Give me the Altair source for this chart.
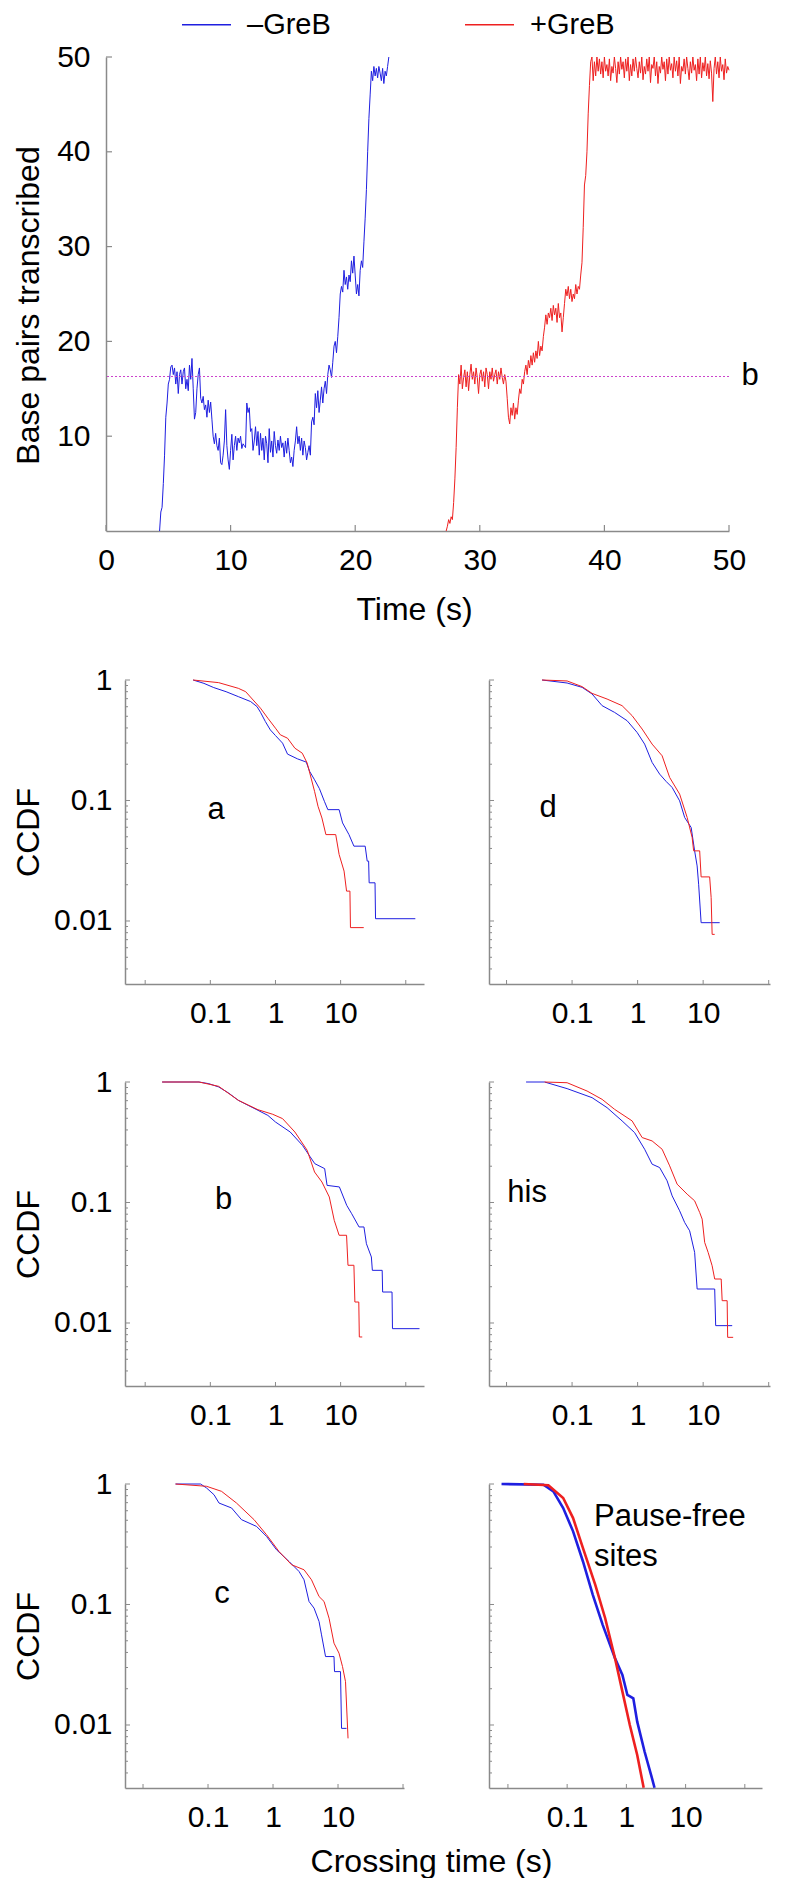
import altair as alt
import pandas as pd

FONT = "Liberation Sans"
BLUE = "#1f1fe0"
RED = "#ee2020"
MAGENTA = "#cc44cc"
GREY = "#8a8a8a"

# ---------------- top panel: single-molecule traces ----------------
CONDITIONS = ["\u2013GreB", "+GreB"]
PAUSE_SITE_BP = 16.3
PAUSE_SITE_LABEL = "b"
TIME_TICKS = [0, 10, 20, 30, 40, 50]
BP_TICKS = [10, 20, 30, 40, 50]

# (time s, base pairs transcribed)
MINUS_TRACE = [
    (4.3, 0), (4.4, 2), (4.5, 2.5), (4.6, 5), (4.7, 8), (4.8, 12), (4.9, 13.5), (5.0, 15.5), (5.1, 16), (5.2, 17.3),
    (5.3, 17.5), (5.4, 16.5), (5.5, 17.2), (5.6, 15.5), (5.7, 16.8), (5.8, 14.5), (5.9, 16.5), (6.0, 17), (6.1, 15.5), (6.2, 16.8),
    (6.3, 17.2), (6.4, 15), (6.5, 16), (6.6, 14.8), (6.7, 17.5), (6.8, 16), (6.9, 18.2), (7.0, 15), (7.1, 11.8), (7.2, 12.5),
    (7.3, 15), (7.4, 16.5), (7.5, 17.2), (7.6, 14), (7.7, 13.5), (7.8, 14.2), (7.9, 12.8), (8.0, 13.3), (8.1, 12), (8.2, 13.8),
    (8.3, 12.5), (8.4, 13.6), (8.5, 11.8), (8.6, 10), (8.7, 9.2), (8.8, 10.3), (8.9, 9), (9.0, 8.5), (9.1, 9.8), (9.2, 7.2),
    (9.3, 7), (9.4, 8), (9.5, 9.5), (9.6, 12.8), (9.7, 9), (9.8, 7.5), (9.9, 6.5), (10.0, 8.5), (10.1, 10.2), (10.2, 7.5),
    (10.3, 9), (10.4, 10), (10.5, 8.5), (10.6, 9.8), (10.7, 9.3), (10.8, 10), (10.9, 8.7), (11.0, 9.2), (11.1, 9), (11.2, 8.8),
    (11.3, 13.5), (11.4, 12.5), (11.5, 13), (11.6, 10.5), (11.7, 10.8), (11.8, 8.5), (11.9, 9.5), (12.0, 11), (12.1, 9), (12.2, 10.5),
    (12.3, 8), (12.4, 10.3), (12.5, 8.5), (12.6, 9.8), (12.7, 7.5), (12.8, 10), (12.9, 9.2), (13.0, 7.2), (13.1, 10.8), (13.2, 8.3),
    (13.3, 9.5), (13.4, 7.8), (13.5, 10.5), (13.6, 9), (13.7, 8.2), (13.8, 9.6), (13.9, 8.5), (14.0, 10), (14.1, 8.8), (14.2, 9.3),
    (14.3, 7.8), (14.4, 9.5), (14.5, 8.2), (14.6, 9.8), (14.7, 8.5), (14.8, 7.2), (14.9, 7.8), (15.0, 6.8), (15.1, 8.5), (15.2, 9.5),
    (15.3, 11), (15.4, 9.2), (15.5, 10), (15.6, 8.5), (15.7, 9.8), (15.8, 8), (15.9, 9.5), (16.0, 8.8), (16.1, 7.5), (16.2, 8.3),
    (16.3, 9), (16.4, 8), (16.5, 11.5), (16.6, 12), (16.7, 11.2), (16.8, 14.5), (16.9, 13), (17.0, 14.8), (17.1, 12.5), (17.2, 13.8),
    (17.3, 15.2), (17.4, 13.5), (17.5, 15), (17.6, 15.8), (17.7, 14.5), (17.8, 16.5), (17.9, 17.5), (18.0, 17), (18.1, 16.2), (18.2, 17.8),
    (18.3, 19.5), (18.4, 20), (18.5, 18.8), (18.6, 20.5), (18.7, 22.5), (18.8, 25), (18.9, 25.8), (19.0, 25.2), (19.1, 27.5), (19.2, 26),
    (19.3, 26.8), (19.4, 25.5), (19.5, 27), (19.6, 26.3), (19.7, 28.5), (19.8, 27.2), (19.9, 29), (20.0, 27), (20.1, 25), (20.2, 26),
    (20.3, 24.8), (20.4, 27.5), (20.5, 28.5), (20.6, 27.8), (20.7, 30.5), (20.8, 33), (20.9, 36), (21.0, 40), (21.1, 43.5), (21.2, 46),
    (21.3, 48.5), (21.4, 47.5), (21.5, 49), (21.6, 48), (21.7, 48.8), (21.8, 47.8), (21.9, 49), (22.0, 48.3), (22.1, 47.5), (22.2, 48.8),
    (22.3, 47.2), (22.4, 48.5), (22.5, 48), (22.6, 49), (22.7, 50),
]

PLUS_TRACE = [
    (27.3, 0), (27.4, 0.5), (27.5, 1.2), (27.6, 0.8), (27.7, 1.5), (27.8, 1.2), (27.9, 3), (28.0, 5.5), (28.1, 8.8), (28.2, 13),
    (28.3, 16.5), (28.4, 15.5), (28.5, 17.5), (28.6, 15), (28.7, 16.2), (28.8, 17), (28.9, 15.2), (29.0, 16.8), (29.1, 14.8), (29.2, 16.5),
    (29.3, 17.6), (29.4, 16), (29.5, 16.8), (29.6, 15.5), (29.7, 17.2), (29.8, 16.2), (29.9, 14.5), (30.0, 16.5), (30.1, 17), (30.2, 15.8),
    (30.3, 16.8), (30.4, 15.2), (30.5, 17.2), (30.6, 16.5), (30.7, 15), (30.8, 16.8), (30.9, 16), (31.0, 17.2), (31.1, 15.8), (31.2, 16.5),
    (31.3, 17), (31.4, 15.5), (31.5, 16.8), (31.6, 16), (31.7, 17.2), (31.8, 16.2), (31.9, 15.5), (32.0, 16.5), (32.1, 15.8), (32.2, 14),
    (32.3, 12), (32.4, 11.3), (32.5, 13), (32.6, 12.2), (32.7, 13.5), (32.8, 11.8), (32.9, 13), (33.0, 12.3), (33.1, 13.8), (33.2, 15),
    (33.3, 14.5), (33.4, 16), (33.5, 15.5), (33.6, 16.8), (33.7, 17.5), (33.8, 16.5), (33.9, 18), (34.0, 17.2), (34.1, 18.5), (34.2, 17.5),
    (34.3, 18.8), (34.4, 17.8), (34.5, 19), (34.6, 18.2), (34.7, 20), (34.8, 18.5), (34.9, 19.5), (35.0, 19), (35.1, 20.5), (35.2, 21.5),
    (35.3, 22.8), (35.4, 21.8), (35.5, 23), (35.6, 22.5), (35.7, 23.5), (35.8, 22.2), (35.9, 23.8), (36.0, 22.8), (36.1, 23.5), (36.2, 22),
    (36.3, 24), (36.4, 22.5), (36.5, 23), (36.6, 21), (36.7, 22.5), (36.8, 24), (36.9, 25.5), (37.0, 24.8), (37.1, 25.8), (37.2, 24.5),
    (37.3, 25.5), (37.4, 24.2), (37.5, 25), (37.6, 24.5), (37.7, 26), (37.8, 25), (37.9, 25.8), (38.0, 25.5), (38.1, 27), (38.2, 28.3),
    (38.3, 32), (38.4, 36.5), (38.5, 37.5), (38.6, 40), (38.7, 44), (38.8, 47), (38.9, 49.5), (39.0, 50), (39.1, 47.5), (39.2, 49.5),
    (39.3, 48), (39.4, 50), (39.5, 48.5), (39.6, 49.8), (39.7, 48.2), (39.8, 49.5), (39.9, 47.8), (40.0, 50), (40.1, 48.5), (40.2, 49.2),
    (40.3, 48), (40.4, 49.8), (40.5, 47.5), (40.6, 49), (40.7, 48.3), (40.8, 50), (40.9, 48.8), (41.0, 47.3), (41.1, 49.5), (41.2, 48.2),
    (41.3, 50), (41.4, 48.7), (41.5, 49.5), (41.6, 47.8), (41.7, 49.8), (41.8, 48.5), (41.9, 50), (42.0, 47.5), (42.1, 49.2), (42.2, 48),
    (42.3, 49.8), (42.4, 48.5), (42.5, 50), (42.6, 48.8), (42.7, 47.8), (42.8, 49.5), (42.9, 48.3), (43.0, 50), (43.1, 47.6), (43.2, 49),
    (43.3, 48.2), (43.4, 49.8), (43.5, 48.5), (43.6, 50), (43.7, 47.3), (43.8, 49.2), (43.9, 48.8), (44.0, 50), (44.1, 48), (44.2, 49.5),
    (44.3, 47.2), (44.4, 49), (44.5, 48.3), (44.6, 50), (44.7, 48.7), (44.8, 49.5), (44.9, 47.5), (45.0, 49.8), (45.1, 48.2), (45.2, 50),
    (45.3, 48.6), (45.4, 49.3), (45.5, 47.8), (45.6, 50), (45.7, 48.5), (45.8, 49.6), (45.9, 48), (46.0, 50), (46.1, 47.2), (46.2, 49),
    (46.3, 48.5), (46.4, 49.8), (46.5, 48.2), (46.6, 50), (46.7, 48.8), (46.8, 47.6), (46.9, 49.5), (47.0, 48.3), (47.1, 50), (47.2, 48.6),
    (47.3, 49.2), (47.4, 47.5), (47.5, 49.8), (47.6, 48.2), (47.7, 50), (47.8, 47.8), (47.9, 49.4), (48.0, 48.5), (48.1, 50), (48.2, 48),
    (48.3, 49.3), (48.4, 47.7), (48.5, 49.6), (48.6, 48.3), (48.7, 45.3), (48.8, 48.8), (48.9, 50), (49.0, 48.2), (49.1, 49.5), (49.2, 47.8),
    (49.3, 50), (49.4, 48.5), (49.5, 49.2), (49.6, 47.6), (49.7, 49.8), (49.8, 48.3), (49.9, 49), (50.0, 48.6),
]

# ---------------- CCDF panels ----------------
# points as (log10 crossing time [s], log10 CCDF)
A_MINUS = [(-1.264, 0), (-1.098, -0.028), (-0.947, -0.063), (-0.758, -0.097), (-0.570, -0.138), (-0.381, -0.179),
           (-0.283, -0.221), (-0.230, -0.268), (-0.155, -0.345), (-0.079, -0.414), (0, -0.461), (0.109, -0.524),
           (0.185, -0.615), (0.336, -0.654), (0.472, -0.681), (0.525, -0.759), (0.600, -0.828), (0.675, -0.902),
           (0.751, -1.007), (0.804, -1.076), (0.977, -1.076), (1.030, -1.186), (1.128, -1.283), (1.204, -1.379),
           (1.377, -1.379), (1.408, -1.503), (1.430, -1.503), (1.438, -1.683), (1.528, -1.683), (1.536, -1.981),
           (2.147, -1.981)]
A_PLUS = [(-1.264, 0), (-0.872, -0.022), (-0.570, -0.069), (-0.457, -0.097), (-0.343, -0.166), (-0.230, -0.234),
          (-0.117, -0.317), (0, -0.4), (0.075, -0.455), (0.185, -0.483), (0.298, -0.566), (0.411, -0.607),
          (0.487, -0.690), (0.547, -0.814), (0.600, -0.924), (0.653, -1.048), (0.713, -1.145), (0.774, -1.283),
          (0.925, -1.283), (0.977, -1.448), (1.053, -1.586), (1.091, -1.752), (1.143, -1.752), (1.151, -2.055),
          (1.355, -2.055)]
D_MINUS = [(-1.458, 0), (-1.076, -0.025), (-0.847, -0.061), (-0.695, -0.116), (-0.542, -0.213), (-0.351, -0.269),
           (-0.160, -0.338), (-0.008, -0.435), (0.107, -0.532), (0.221, -0.684), (0.336, -0.781), (0.435, -0.842),
           (0.527, -0.892), (0.641, -1.003), (0.718, -1.141), (0.817, -1.224), (0.870, -1.418), (0.908, -1.543),
           (0.931, -1.695), (0.969, -2.014), (1.252, -2.014)]
D_PLUS = [(-1.458, 0), (-1.076, -0.008), (-0.847, -0.055), (-0.695, -0.111), (-0.466, -0.158), (-0.237, -0.213),
          (-0.084, -0.296), (0.069, -0.407), (0.221, -0.532), (0.374, -0.629), (0.489, -0.809), (0.641, -0.947),
          (0.756, -1.141), (0.832, -1.307), (0.855, -1.418), (0.947, -1.418), (0.969, -1.634), (1.099, -1.634),
          (1.122, -1.806), (1.137, -2.111), (1.176, -2.111)]
B_MINUS = [(-1.740, 0), (-1.174, 0), (-1.023, -0.014), (-0.872, -0.041), (-0.721, -0.091), (-0.570, -0.152),
           (-0.419, -0.194), (-0.268, -0.235), (-0.117, -0.277), (0, -0.332), (0.226, -0.415), (0.415, -0.526),
           (0.528, -0.617), (0.604, -0.678), (0.755, -0.719), (0.792, -0.858), (0.981, -0.871), (1.094, -1.024),
           (1.170, -1.093), (1.283, -1.203), (1.358, -1.203), (1.396, -1.342), (1.472, -1.452), (1.487, -1.563),
           (1.638, -1.563), (1.645, -1.743), (1.789, -1.743), (1.796, -2.047), (2.211, -2.047)]
B_PLUS = [(-1.740, 0), (-1.174, 0), (-0.872, -0.036), (-0.570, -0.152), (-0.268, -0.230), (-0.042, -0.268),
          (0.109, -0.304), (0.298, -0.415), (0.487, -0.567), (0.600, -0.747), (0.713, -0.830), (0.826, -0.954),
          (0.902, -1.148), (0.977, -1.272), (1.091, -1.272), (1.113, -1.521), (1.204, -1.521), (1.219, -1.826),
          (1.279, -1.826), (1.287, -2.116), (1.332, -2.116)]
HIS_MINUS = [(-1.702, 0), (-1.420, 0), (-1.076, -0.055), (-0.695, -0.130), (-0.466, -0.213), (-0.237, -0.323),
             (-0.046, -0.420), (0.107, -0.558), (0.221, -0.682), (0.336, -0.710), (0.450, -0.820), (0.527, -0.945),
             (0.641, -1.069), (0.718, -1.166), (0.794, -1.235), (0.870, -1.414), (0.908, -1.718), (1.176, -1.718),
             (1.191, -2.022), (1.443, -2.022)]
HIS_PLUS = [(-1.420, 0), (-1.076, -0.006), (-0.771, -0.075), (-0.542, -0.144), (-0.351, -0.227), (-0.084, -0.323),
            (0.069, -0.461), (0.221, -0.489), (0.374, -0.558), (0.489, -0.696), (0.603, -0.848), (0.756, -0.931),
            (0.870, -0.986), (0.947, -1.083), (0.985, -1.138), (1.023, -1.331), (1.076, -1.414), (1.137, -1.525),
            (1.176, -1.635), (1.275, -1.635), (1.290, -1.815), (1.366, -1.815), (1.374, -2.119), (1.458, -2.119)]
C_MINUS = [(-1.500, 0), (-1.115, 0), (-1.023, -0.033), (-0.908, -0.089), (-0.831, -0.158), (-0.638, -0.199),
           (-0.485, -0.296), (-0.254, -0.352), (-0.100, -0.435), (0.054, -0.546), (0.246, -0.643), (0.400, -0.726),
           (0.477, -0.795), (0.554, -0.975), (0.631, -1.030), (0.708, -1.141), (0.746, -1.252), (0.808, -1.432),
           (0.938, -1.432), (0.946, -1.557), (1.038, -1.557), (1.054, -2.028), (1.131, -2.028)]
C_PLUS = [(-1.500, 0), (-1.023, -0.019), (-0.792, -0.061), (-0.562, -0.158), (-0.292, -0.296), (-0.100, -0.421),
          (0.092, -0.560), (0.285, -0.670), (0.477, -0.712), (0.592, -0.795), (0.708, -0.934), (0.785, -0.975),
          (0.862, -1.114), (0.938, -1.321), (1.015, -1.404), (1.069, -1.515), (1.115, -1.640), (1.154, -2.111)]
PF_MINUS = [(-2.108, 0), (-1.400, -0.006), (-1.233, -0.061), (-1.067, -0.199), (-0.900, -0.393), (-0.733, -0.643),
            (-0.567, -0.920), (-0.400, -1.169), (-0.192, -1.446), (-0.067, -1.584), (0.017, -1.751), (0.117, -1.778),
            (0.183, -1.972), (0.308, -2.222), (0.433, -2.443), (0.475, -2.521)]
PF_PLUS = [(-1.733, 0), (-1.317, -0.011), (-1.067, -0.116), (-0.900, -0.283), (-0.733, -0.532), (-0.525, -0.837),
           (-0.358, -1.114), (-0.192, -1.446), (-0.067, -1.723), (0.058, -2.0), (0.183, -2.249), (0.292, -2.521)]

CCDF_DOMAIN = [0.003, 1]
CCDF_LABEL_TICKS = [1, 0.1, 0.01]
CCDF_MINOR_TICKS = [0.004, 0.005, 0.006, 0.007, 0.008, 0.009,
                    0.02, 0.03, 0.04, 0.05, 0.06, 0.07, 0.08, 0.09,
                    0.2, 0.3, 0.4, 0.5, 0.6, 0.7, 0.8, 0.9]
TIME_LABEL_TICKS = [0.1, 1, 10]
TIME_DECADES = [0.01, 0.1, 1, 10, 100]

# panel notes: (text, time, CCDF, align)
NOTES = {
    "a": [("a", 0.1225, 0.0834, "center")],
    "d": [("d", 0.043, 0.0867, "center")],
    "b": [("b", 0.1596, 0.105, "center")],
    "his": [("his", 0.0206, 0.12, "center")],
    "c": [("c", 0.164, 0.122, "center")],
    "pf": [("Pause-free", 0.284, 0.532, "left"), ("sites", 0.284, 0.248, "left")],
}

TOP_W, TOP_H = 623, 474
PANEL_H = 304
LEFT_SHIFT = 19  # CCDF axes sit this far right of the top panel's axis


# ---------------- top chart ----------------
def top_x():
    return alt.X("t:Q", scale=alt.Scale(domain=[0, 50], nice=False, zero=False),
                 axis=alt.Axis(values=TIME_TICKS, format="d", title="Time (s)", labelPadding=14,
                               titleX=308, titleY=88, titleBaseline="alphabetic"))


def top_y():
    return alt.Y("bp:Q", scale=alt.Scale(domain=[0, 50], nice=False, zero=False),
                 axis=alt.Axis(values=BP_TICKS, format="d", title="Base pairs transcribed", labelPadding=16,
                               titleX=-68, titleY=248, titleAngle=270, titleBaseline="alphabetic"))


top_df = pd.DataFrame({
    "t": [p[0] for p in MINUS_TRACE] + [p[0] for p in PLUS_TRACE],
    "bp": [p[1] for p in MINUS_TRACE] + [p[1] for p in PLUS_TRACE],
    "cond": [CONDITIONS[0]] * len(MINUS_TRACE) + [CONDITIONS[1]] * len(PLUS_TRACE),
})

traces = alt.Chart(top_df).mark_line(strokeWidth=1).encode(
    x=top_x(), y=top_y(),
    color=alt.Color("cond:N", scale=alt.Scale(domain=CONDITIONS, range=[BLUE, RED]),
                    legend=alt.Legend(title=None, orient="none", legendX=75, legendY=-58,
                                      direction="horizontal", symbolType="stroke", symbolSize=2401,
                                      symbolStrokeWidth=1.5, labelFont=FONT, labelFontSize=29,
                                      labelColor="black", labelOffset=15, columnPadding=131,
                                      padding=0, labelLimit=0)),
)

pause_line = alt.Chart(pd.DataFrame({"bp": [PAUSE_SITE_BP]})).mark_rule(
    color=MAGENTA, strokeWidth=1.2, strokeDash=[2, 2]).encode(y=top_y())

pause_label = alt.Chart(pd.DataFrame({"t": [50], "bp": [PAUSE_SITE_BP], "label": [PAUSE_SITE_LABEL]})).mark_text(
    dx=21, fontSize=31, font=FONT, align="center", baseline="middle", color="black").encode(
    x=top_x(), y=top_y(), text="label:N")

top_xticks = alt.Chart(pd.DataFrame({"t": TIME_TICKS})).mark_rule(color=GREY, strokeWidth=1.2).encode(
    x=top_x(), y=alt.value(TOP_H - 6), y2=alt.value(TOP_H))
top_yticks = alt.Chart(pd.DataFrame({"bp": BP_TICKS})).mark_rule(color=GREY, strokeWidth=1.2).encode(
    y=top_y(), x=alt.value(0), x2=alt.value(6))

top = alt.layer(traces, pause_line, pause_label, top_xticks, top_yticks).properties(width=TOP_W, height=TOP_H)


# ---------------- CCDF panel builder ----------------
def ccdf_panel(minus, plus, xdomain, width, notes, ylabels, ytitle, xtitle=None, line_w=1.0, shift=0):
    if shift:
        xs = alt.Scale(type="log", domain=xdomain, nice=False, range=[shift, shift + width])
    else:
        xs = alt.Scale(type="log", domain=xdomain, nice=False)
    ys = alt.Scale(type="log", domain=CCDF_DOMAIN, nice=False)
    if xtitle:
        xaxis = dict(title=xtitle, titleX=306 + shift, titleY=83, titleBaseline="alphabetic")
    else:
        xaxis = dict(title=None)
    if ytitle:
        yaxis = dict(title=ytitle, titleX=-87, titleAngle=270, titleBaseline="alphabetic")
    else:
        yaxis = dict(title=None)
    if shift:
        yaxis["offset"] = -shift

    def X():
        return alt.X("x:Q", scale=xs, axis=alt.Axis(values=TIME_LABEL_TICKS, format="~g", labelPadding=14, **xaxis))

    def Y():
        return alt.Y("y:Q", scale=ys, axis=alt.Axis(values=CCDF_LABEL_TICKS, format="~g", labelPadding=13,
                                                    labels=ylabels, **yaxis))

    def curve(points, color):
        df = pd.DataFrame({"x": [10 ** a for a, _ in points], "y": [10 ** b for _, b in points],
                           "i": list(range(len(points)))})
        return alt.Chart(df).mark_line(color=color, strokeWidth=line_w).encode(x=X(), y=Y(), order="i:Q")

    layers = [curve(minus, BLUE), curve(plus, RED)]
    layers.append(alt.Chart(pd.DataFrame({"y": CCDF_LABEL_TICKS})).mark_rule(color=GREY, strokeWidth=1).encode(
        y=Y(), x=alt.value(shift), x2=alt.value(shift + 5)))
    layers.append(alt.Chart(pd.DataFrame({"y": CCDF_MINOR_TICKS})).mark_rule(color=GREY, strokeWidth=1).encode(
        y=Y(), x=alt.value(shift), x2=alt.value(shift + 3)))
    xt = [v for v in TIME_DECADES if xdomain[0] <= v <= xdomain[1]]
    layers.append(alt.Chart(pd.DataFrame({"x": xt})).mark_rule(color=GREY, strokeWidth=1).encode(
        x=X(), y=alt.value(PANEL_H - 4), y2=alt.value(PANEL_H)))
    for text, tx, ty, align in notes:
        layers.append(alt.Chart(pd.DataFrame({"x": [tx], "y": [ty], "label": [text]})).mark_text(
            font=FONT, fontSize=31, align=align, baseline="middle", color="black").encode(
            x=X(), y=Y(), text="label:N"))
    return alt.layer(*layers).properties(width=width + shift, height=PANEL_H)


pa = ccdf_panel(A_MINUS, A_PLUS, [0.0049, 190.5], 299, NOTES["a"], True, "CCDF", shift=LEFT_SHIFT)
pdd = ccdf_panel(D_MINUS, D_PLUS, [0.0054, 104.7], 281, NOTES["d"], False, None)
pb = ccdf_panel(B_MINUS, B_PLUS, [0.0049, 190.5], 299, NOTES["b"], True, "CCDF", shift=LEFT_SHIFT)
ph = ccdf_panel(HIS_MINUS, HIS_PLUS, [0.0054, 104.7], 281, NOTES["his"], False, None)
pc = ccdf_panel(C_MINUS, C_PLUS, [0.00528, 103.5], 279, NOTES["c"], True, "CCDF",
                xtitle="Crossing time (s)", shift=LEFT_SHIFT)
pf = ccdf_panel(PF_MINUS, PF_PLUS, [0.00479, 195.0], 273, NOTES["pf"], False, None, line_w=2.6)

row1 = alt.hconcat(pa, pdd, spacing=65, bounds="flush")
row2 = alt.hconcat(pb, ph, spacing=65, bounds="flush")
row3 = alt.hconcat(pc, pf, spacing=85, bounds="flush")
grid = alt.vconcat(row1, row2, row3, spacing=37)

chart = alt.vconcat(top, grid, spacing=38).properties(
    padding={"top": -9, "left": 3, "right": 0, "bottom": 0}, background="white"
).configure_axis(
    domainColor=GREY, domainWidth=1.5, tickSize=0, grid=False,
    labelFont=FONT, labelFontSize=30, labelColor="black", labelFlush=False, labelOverlap=False, labelAngle=0,
    titleFont=FONT, titleFontSize=32, titleFontWeight="normal", titleColor="black",
).configure_view(stroke="transparent").configure_text(font=FONT)

chart.save("out.html", embed_options={"renderer": "svg", "actions": False})
